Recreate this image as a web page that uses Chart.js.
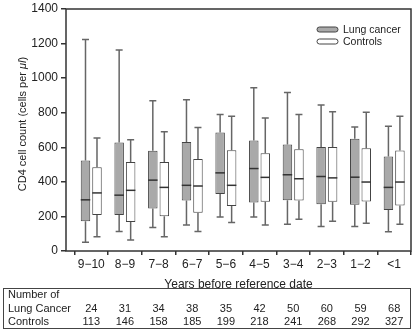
<!DOCTYPE html>
<html>
<head>
<meta charset="utf-8">
<script src="https://cdn.jsdelivr.net/npm/chart.js@4.4.1/dist/chart.umd.min.js"></script>
<style>
  html, body { margin: 0; padding: 0; background: #fff; }
  #wrap { width: 414px; height: 330px; position: relative; }
</style>
</head>
<body>
<div id="wrap"><canvas id="cd4Chart"></canvas></div>
<script>
const periods = ["9−10", "8−9", "7−8", "6−7", "5−6", "4−5", "3−4", "2−3", "1−2", "<1"];

const lungLow    = [50, 113, 136, 151, 197, 197, 155, 142, 142, 111];
const lungQ1     = [172, 208, 246, 292, 330, 281, 294, 271, 267, 237];
const lungMedian = [296, 323, 410, 380, 452, 477, 441, 431, 427, 368];
const lungQ3     = [523, 627, 580, 631, 685, 639, 616, 601, 650, 547];
const lungHigh   = [1223, 1163, 869, 875, 789, 944, 917, 845, 717, 721];

const ctrlLow    = [83, 64, 83, 113, 165, 151, 183, 172, 161, 155];
const ctrlQ1     = [208, 168, 201, 222, 260, 285, 292, 285, 286, 263];
const ctrlMedian = [336, 351, 368, 376, 380, 426, 418, 423, 399, 399];
const ctrlQ3     = [485, 515, 515, 532, 583, 565, 589, 601, 595, 582];
const ctrlHigh   = [654, 643, 690, 715, 780, 769, 789, 805, 803, 780];

const yTicks = [0, 200, 400, 600, 800, 1000, 1200, 1400];

const nLung     = [24, 31, 34, 38, 35, 42, 50, 60, 59, 68];
const nControls = [113, 146, 158, 185, 199, 218, 241, 268, 292, 327];

const FONT = "'Liberation Sans', Arial, Helvetica, sans-serif";
const INK = "#222";
const LINE = "#444";

// whisker / median values per dataset, same order as datasets
const extras = [
  { low: lungLow, median: lungMedian, high: lungHigh },
  { low: ctrlLow, median: ctrlMedian, high: ctrlHigh }
];

// whiskers, caps and medians on top of the floating bars
const boxPlotPlugin = {
  id: "boxplot",
  afterDatasetsDraw(chart) {
    const { ctx, scales: { y } } = chart;
    ctx.save();
    extras.forEach((ex, di) => {
      chart.getDatasetMeta(di).data.forEach((bar, i) => {
        const x = bar.x;
        const half = bar.width / 2;
        const yLow = y.getPixelForValue(ex.low[i]);
        const yHigh = y.getPixelForValue(ex.high[i]);
        const yQ1 = y.getPixelForValue(chart.data.datasets[di].data[i].y[0]);
        const yQ3 = y.getPixelForValue(chart.data.datasets[di].data[i].y[1]);
        const yMed = y.getPixelForValue(ex.median[i]);

        ctx.strokeStyle = "#666";
        ctx.lineWidth = 1.5;
        ctx.beginPath();
        ctx.moveTo(x, yQ3); ctx.lineTo(x, yHigh);
        ctx.moveTo(x, yQ1); ctx.lineTo(x, yLow);
        ctx.moveTo(x - 3.5, yHigh); ctx.lineTo(x + 3.5, yHigh);
        ctx.moveTo(x - 3.5, yLow); ctx.lineTo(x + 3.5, yLow);
        ctx.stroke();

        ctx.strokeStyle = "#333";
        ctx.beginPath();
        ctx.moveTo(x - half, yMed); ctx.lineTo(x + half, yMed);
        ctx.stroke();
      });
    });
    ctx.restore();
  }
};

// frame, legend, y title and the counts table under the axis
const decorPlugin = {
  id: "decor",
  afterDraw(chart) {
    const { ctx, chartArea: a, scales: { x } } = chart;
    ctx.save();

    ctx.strokeStyle = "#333";
    ctx.lineWidth = 1.5;
    ctx.strokeRect(a.left, a.top, a.right - a.left, a.bottom - a.top);

    // legend
    ctx.font = `10.5px ${FONT}`;
    ctx.textBaseline = "middle";
    ctx.fillStyle = INK;
    chart.data.datasets.forEach((ds, i) => {
      const cy = 29.5 + i * 12;
      ctx.beginPath();
      ctx.roundRect(317, cy - 2.5, 21, 5, 2.5);
      ctx.fillStyle = ds.backgroundColor;
      ctx.fill();
      ctx.lineWidth = 1;
      ctx.strokeStyle = LINE;
      ctx.stroke();
      ctx.fillStyle = INK;
      ctx.fillText(ds.label, 343, cy + 0.5);
    });

    // y title with italic µl
    ctx.translate(23, 124);
    ctx.rotate(-Math.PI / 2);
    const p1 = "CD4 cell count (cells per ", p2 = "μl", p3 = ")";
    ctx.font = `11px ${FONT}`;
    const w1 = ctx.measureText(p1).width, w3 = ctx.measureText(p3).width;
    ctx.font = `italic 11px ${FONT}`;
    const w2 = ctx.measureText(p2).width;
    let sx = -(w1 + w2 + w3) / 2;
    ctx.font = `11px ${FONT}`;
    ctx.fillText(p1, sx, 0);
    ctx.font = `italic 11px ${FONT}`;
    ctx.fillText(p2, sx + w1, 0);
    ctx.font = `11px ${FONT}`;
    ctx.fillText(p3, sx + w1 + w2, 0);
    ctx.setTransform(1, 0, 0, 1, 0, 0);

    // table
    ctx.strokeStyle = LINE;
    ctx.lineWidth = 1;
    ctx.strokeRect(3.5, 288.5, 407, 40);
    ctx.font = `11px ${FONT}`;
    ctx.textBaseline = "alphabetic";
    ctx.textAlign = "left";
    ctx.fillStyle = INK;
    ctx.fillText("Number of", 8, 298);
    ctx.fillText("Lung Cancer", 8, 311.5);
    ctx.fillText("Controls", 8, 325);
    ctx.textAlign = "center";
    periods.forEach((_, i) => {
      const px = x.getPixelForValue(i);
      ctx.fillText(String(nLung[i]), px, 311.5);
      ctx.fillText(String(nControls[i]), px, 325);
    });

    ctx.restore();
  }
};

const toBoxes = (q1, q3) => q1.map((v, i) => ({ x: i, y: [v, q3[i]] }));

new Chart(document.getElementById("cd4Chart"), {
  type: "bar",
  data: {
    datasets: [
      {
        label: "Lung cancer",
        data: toBoxes(lungQ1, lungQ3),
        backgroundColor: "#a9a9a9",
        borderColor: LINE,
        borderWidth: 1,
        borderSkipped: false
      },
      {
        label: "Controls",
        data: toBoxes(ctrlQ1, ctrlQ3),
        backgroundColor: "#ffffff",
        borderColor: LINE,
        borderWidth: 1,
        borderSkipped: false
      }
    ]
  },
  options: {
    responsive: true,
    maintainAspectRatio: false,
    animation: false,
    categoryPercentage: 0.683,
    barPercentage: 0.826,
    layout: { padding: { top: 0, right: 3, bottom: 38, left: 0 } },
    plugins: {
      legend: { display: false },
      tooltip: { enabled: false }
    },
    scales: {
      x: {
        type: "linear",
        min: -0.75,
        max: 9.5,
        offset: false,
        afterFit: s => { s.height = 41; },
        afterBuildTicks: s => { s.ticks = periods.map((_, i) => ({ value: i })); },
        border: { display: false },
        grid: { drawOnChartArea: false, tickLength: 4, color: "#333", lineWidth: 1.5 },
        ticks: {
          autoSkip: false,
          maxRotation: 0,
          padding: 2,
          color: INK,
          font: { family: FONT, size: 12 },
          callback: v => periods[v]
        },
        title: {
          display: true,
          text: "Years before reference date",
          color: INK,
          font: { family: FONT, size: 12 },
          padding: { top: 2, bottom: 0 }
        }
      },
      y: {
        min: 0,
        max: 1400,
        afterFit: s => { s.width = 66; },
        afterBuildTicks: s => { s.ticks = yTicks.map(v => ({ value: v })); },
        border: { display: false },
        grid: { drawOnChartArea: false, tickLength: 5, color: "#333", lineWidth: 1.5 },
        ticks: {
          padding: 3,
          color: INK,
          font: { family: FONT, size: 12, lineHeight: 1 },
          callback: v => String(v)
        }
      }
    }
  },
  plugins: [boxPlotPlugin, decorPlugin]
});
</script>
</body>
</html>
